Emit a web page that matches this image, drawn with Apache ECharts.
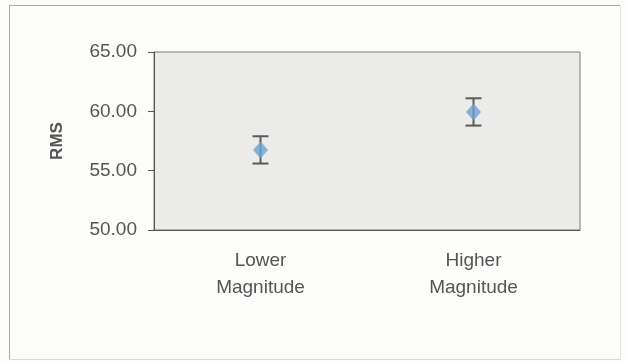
<!DOCTYPE html>
<html>
<head>
<meta charset="utf-8">
<script src="https://cdn.jsdelivr.net/npm/echarts@6/dist/echarts.min.js"></script>
<style>
  html, body { margin: 0; padding: 0; background: #fcfcfa; }
  #chart { width: 626px; height: 362px; }
</style>
</head>
<body>
<div id="chart"></div>
<script>
// Mean RMS per magnitude group, with symmetric error half-widths
var categories = ['Lower\nMagnitude', 'Higher\nMagnitude'];
var meanRms = [56.75, 59.95];
var errorHalf = [1.15, 1.15];
var yTicks = { min: 50, max: 65, interval: 5 };

var errorData = categories.map(function (c, i) {
  return [i, meanRms[i] - errorHalf[i], meanRms[i] + errorHalf[i]];
});

var chart = echarts.init(document.getElementById('chart'), null, { renderer: 'canvas' });

var textFont = 'Liberation Sans, Arial, sans-serif';

function frameLine(x1, y1, x2, y2, color) {
  return {
    type: 'line',
    shape: { x1: x1, y1: y1, x2: x2, y2: y2 },
    style: { stroke: color, lineWidth: 1 },
    silent: true,
    z: -1
  };
}

chart.setOption({
  animation: false,
  backgroundColor: '#fcfcfa',
  graphic: [
    frameLine(9, 5.5, 621, 5.5, '#a8a8a8'),
    frameLine(9.5, 5, 9.5, 360, '#a8a8a8'),
    frameLine(9, 359.5, 621, 359.5, '#d8d8d4'),
    frameLine(620.5, 5, 620.5, 360, '#e4e4e2')
  ],
  grid: {
    left: 154, right: 46, top: 52, bottom: 132,
    show: true,
    backgroundColor: '#ebebea',
    borderColor: '#7a7a7a',
    borderWidth: 1
  },
  xAxis: {
    type: 'category',
    data: categories,
    boundaryGap: true,
    axisLine: { lineStyle: { color: '#555', width: 1 } },
    axisTick: { length: 7, lineStyle: { color: '#555' } },
    axisLabel: {
      color: '#555', fontFamily: textFont, fontSize: 19,
      lineHeight: 27, margin: 17
    },
    splitLine: { show: false }
  },
  yAxis: {
    type: 'value',
    min: yTicks.min, max: yTicks.max, interval: yTicks.interval,
    name: 'RMS',
    nameLocation: 'middle',
    nameGap: 88,
    nameRotate: 90,
    nameTextStyle: { color: '#555', fontFamily: textFont, fontSize: 17, fontWeight: 'bold' },
    axisLine: { show: true, lineStyle: { color: '#555', width: 1 } },
    axisTick: { show: true, length: 6, lineStyle: { color: '#555' } },
    axisLabel: {
      color: '#555', fontFamily: textFont, fontSize: 19, margin: 17,
      formatter: function (v) { return v.toFixed(2); }
    },
    splitLine: { show: false }
  },
  series: [
    {
      type: 'custom',
      name: 'error',
      data: errorData,
      renderItem: function (params, api) {
        var x = api.value(0);
        var lo = api.coord([x, api.value(1)]);
        var hi = api.coord([x, api.value(2)]);
        var cap = 8;
        var st = { stroke: '#5a5a5a', lineWidth: 2 };
        return {
          type: 'group',
          children: [
            { type: 'line', shape: { x1: lo[0], y1: lo[1], x2: hi[0], y2: hi[1] }, style: st },
            { type: 'line', shape: { x1: lo[0] - cap, y1: lo[1], x2: lo[0] + cap, y2: lo[1] }, style: st },
            { type: 'line', shape: { x1: hi[0] - cap, y1: hi[1], x2: hi[0] + cap, y2: hi[1] }, style: st }
          ]
        };
      },
      z: 2
    },
    {
      type: 'scatter',
      name: 'RMS',
      data: meanRms,
      symbol: 'diamond',
      symbolSize: [15, 17],
      itemStyle: { color: '#6fa3d4' },
      z: 3
    }
  ]
});
</script>
</body>
</html>
